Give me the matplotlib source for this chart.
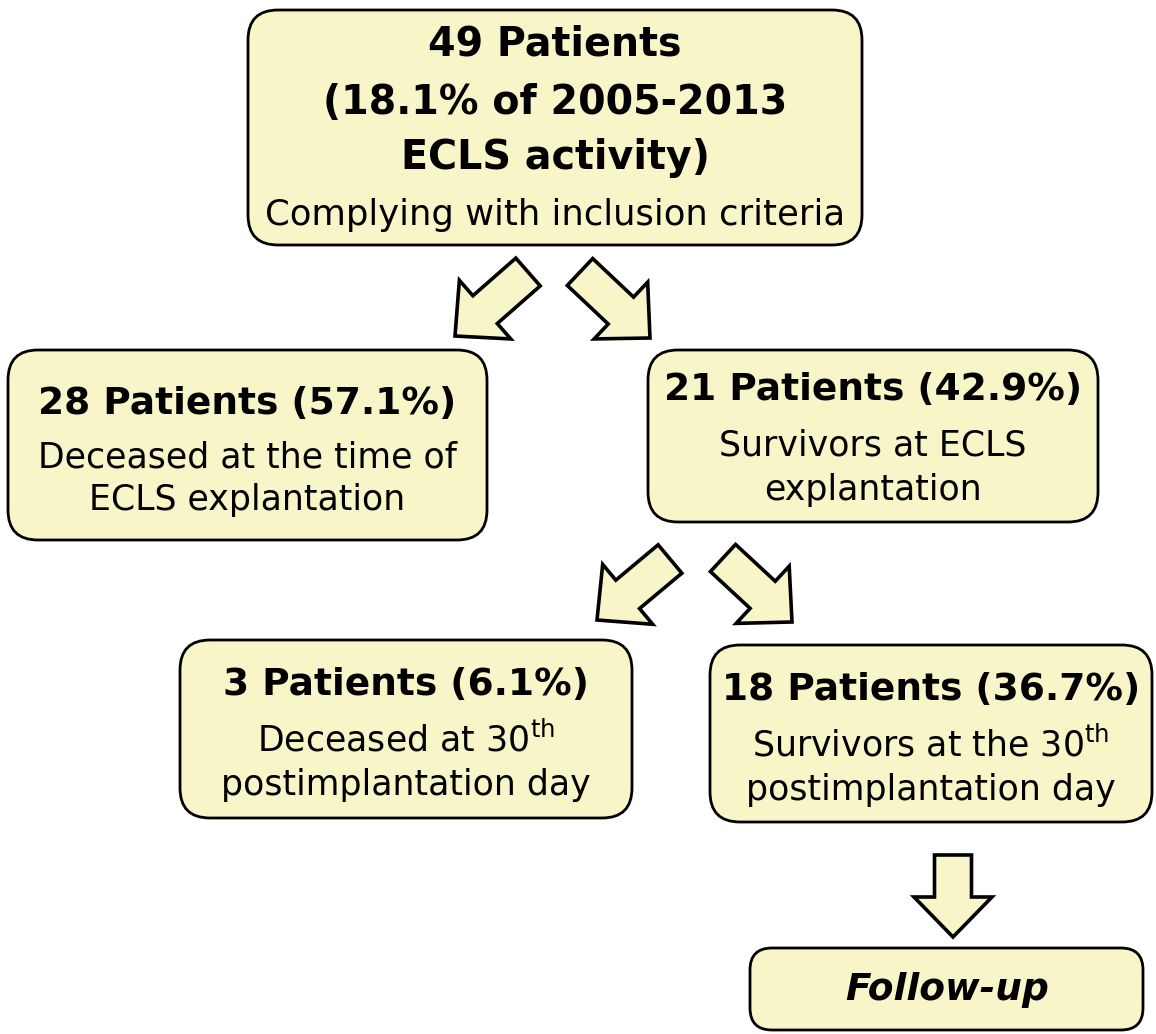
import matplotlib
matplotlib.use("Agg")
import matplotlib.pyplot as plt
from matplotlib.patches import FancyBboxPatch, FancyArrow

# box texts: (headline lines, description lines)
top_head = ["49 Patients", "(18.1% of 2005-2013", "ECLS activity)"]
top_desc = ["Complying with inclusion criteria"]
dead_ecls_head = ["28 Patients (57.1%)"]
dead_ecls_desc = ["Deceased at the time of", "ECLS explantation"]
surv_ecls_head = ["21 Patients (42.9%)"]
surv_ecls_desc = ["Survivors at ECLS", "explantation"]
dead_30_head = ["3 Patients (6.1%)"]
dead_30_desc = ["Deceased at 30$^{\\mathrm{th}}$", "postimplantation day"]
surv_30_head = ["18 Patients (36.7%)"]
surv_30_desc = ["Survivors at the 30$^{\\mathrm{th}}$", "postimplantation day"]
followup_label = "Follow-up"

FILL = "#f8f5c8"
EDGE = "black"

fig = plt.figure(figsize=(11.56, 10.34), dpi=100)
ax = fig.add_axes([0, 0, 1, 1])
ax.set_xlim(0, 1156)
ax.set_ylim(1034, 0)
ax.axis("off")


def box(x0, y0, x1, y1, r=30):
    p = FancyBboxPatch((x0 + r, y0 + r), (x1 - x0) - 2 * r, (y1 - y0) - 2 * r,
                       boxstyle=f"round,pad={r},rounding_size={r}",
                       fc=FILL, ec=EDGE, lw=2.0, mutation_aspect=1)
    ax.add_patch(p)


def lines(xc, ys, texts, size, weight="normal", style="normal"):
    for y, t in zip(ys, texts):
        ax.text(xc, y, t, ha="center", va="center", fontsize=size,
                fontweight=weight, fontstyle=style, color="black")


def arrow(tail, tip):
    dx, dy = tip[0] - tail[0], tip[1] - tail[1]
    a = FancyArrow(tail[0], tail[1], dx, dy, width=37, head_width=78,
                   head_length=40, length_includes_head=True,
                   fc=FILL, ec=EDGE, lw=2.6, joinstyle="miter")
    ax.add_patch(a)


# top box
box(248, 10, 862, 245)
lines(555, [45, 103, 158], top_head, 28.5, "bold")
lines(555, [215], top_desc, 25.5)

# second row
box(8, 350, 487, 540)
lines(247, [404], dead_ecls_head, 27, "bold")
lines(247, [458, 500], dead_ecls_desc, 25)

box(648, 350, 1098, 522)
lines(873, [390], surv_ecls_head, 27, "bold")
lines(873, [446, 490], surv_ecls_desc, 25)

# third row
box(180, 640, 632, 818)
lines(406, [685], dead_30_head, 27, "bold")
lines(406, [740, 785], dead_30_desc, 25)

box(710, 645, 1152, 822)
lines(931, [690], surv_30_head, 27, "bold")
lines(931, [745, 790], surv_30_desc, 25)

# follow-up
box(750, 948, 1143, 1030, r=22)
lines(947, [990], [followup_label], 27, "bold", "italic")

# arrows
arrow((528, 272), (455, 336))
arrow((580, 272), (650, 338))
arrow((670, 559), (597, 620))
arrow((723, 558), (792, 622))
arrow((953, 855), (953, 937))

fig.savefig("out.png", dpi=100, facecolor="white")
